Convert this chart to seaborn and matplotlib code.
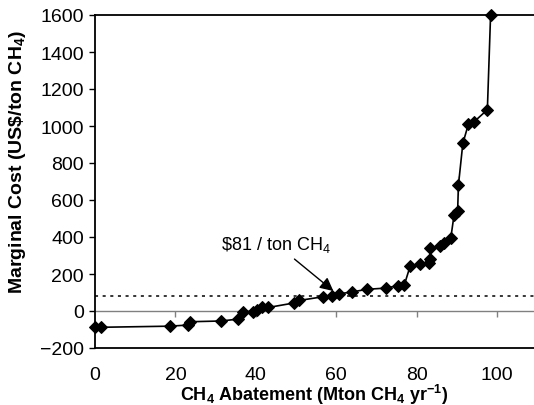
import matplotlib
matplotlib.use("Agg")
import matplotlib.pyplot as plt
import seaborn as sns
import pandas as pd

sns.set_theme(style="white")
plt.rcParams["font.family"] = ["Liberation Sans", "DejaVu Sans"]
plt.rcParams["mathtext.fontset"] = "custom"
plt.rcParams["mathtext.rm"] = "Liberation Sans"
plt.rcParams["mathtext.bf"] = "Liberation Sans:bold"
plt.rcParams["text.color"] = "black"
plt.rcParams["axes.labelcolor"] = "black"
plt.rcParams["xtick.color"] = "black"
plt.rcParams["ytick.color"] = "black"

# cumulative abatement (Mton CH4/yr) vs marginal cost (US$/ton CH4)
abatement = [0, 1.5, 18.6, 23.1, 23.7, 31.4, 35.5, 36.9, 39.2, 40.4, 41.6, 43.1,
             49.4, 50.8, 56.7, 58.9, 60.8, 63.9, 67.6, 72.4, 75.3, 76.9, 78.4,
             80.9, 83.0, 83.4, 83.3, 85.8, 86.7, 88.5, 89.3, 90.2, 90.4, 90.4,
             91.5, 92.9, 94.3, 97.6, 98.4]
cost = [-88, -88, -82, -76, -58, -54, -44, -3, -3, 6, 20, 19,
        43, 57, 77, 82, 93, 103, 117, 124, 137, 138, 243,
        254, 262, 281, 339, 351, 367, 394, 517, 538, 629, 731,
        906, 1011, 1023, 1088, 1600]
threshold = 81
xticks = [0, 20, 40, 60, 80, 100]
yticks = [-200, 0, 200, 400, 600, 800, 1000, 1200, 1400, 1600]

df = pd.DataFrame({"abatement": abatement, "cost": cost})

fig = plt.figure(figsize=(5.34, 4.06), dpi=100)
ax = fig.add_axes([95 / 534, 1 - 349 / 406, 1 - 95 / 534, (349 - 16) / 406])

sns.lineplot(data=df, x="abatement", y="cost", ax=ax, color="black", lw=1.2,
             marker="D", markersize=6, markeredgecolor="black", sort=False,
             clip_on=False, zorder=5)

ax.axhline(threshold, color="black", ls=(0, (2, 3)), lw=1.1)
ax.axhline(0, color="#808080", lw=1)

ax.set_xlim(0, 109.2)
ax.set_ylim(-200, 1600)
ax.set_xticks(xticks)
ax.set_yticks(yticks)
ax.tick_params(axis="x", length=0, pad=13, labelsize=14, labelcolor="black")
ax.tick_params(axis="y", length=4, width=1, direction="out", pad=4,
               labelsize=14, left=True, color="black", labelcolor="black")

for s in ["left", "bottom", "top"]:
    ax.spines[s].set_color("black")
    ax.spines[s].set_linewidth(1.3)
ax.spines["right"].set_visible(False)

# ticks along the zero line
zax = ax.secondary_xaxis(0, transform=ax.transData)
zax.set_xticks(xticks[1:])
zax.tick_params(axis="x", length=4, width=1, color="#808080", direction="out",
                labelbottom=False)
zax.spines["bottom"].set_visible(False)

ax.set_xlabel(r"CH$_\mathbf{4}$ Abatement (Mton CH$_\mathbf{4}$ yr$^\mathbf{-1}$)",
              fontsize=13, fontweight="bold", color="black")
ax.xaxis.set_label_coords(0.5, -0.103)
ax.set_ylabel(r"Marginal Cost (US\$/ton CH$_\mathbf{4}$)",
              fontsize=14, fontweight="bold", color="black")
ax.yaxis.set_label_coords(-0.152, 0.56)

ax.annotate(r"\$81 / ton CH$_4$", xy=(59.3, 108), xytext=(31.4, 362),
            fontsize=13, ha="left", va="center", color="black",
            arrowprops=dict(arrowstyle="-|>", color="black", lw=1,
                            mutation_scale=20, shrinkA=2, shrinkB=0))

fig.savefig("out.png", dpi=100)
